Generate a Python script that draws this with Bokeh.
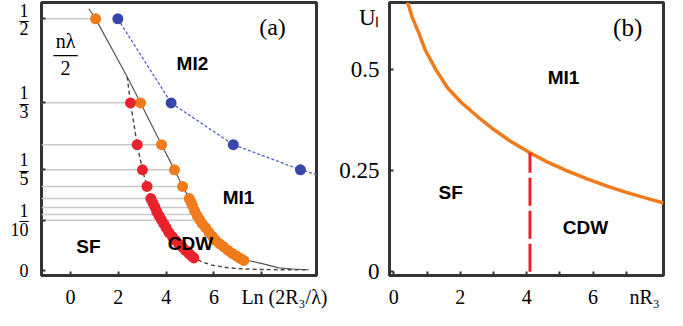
from bokeh.plotting import figure
from bokeh.layouts import row
from bokeh.models import Range1d, FixedTicker, Label, CustomJSTickFormatter
from bokeh.embed import file_html
from bokeh.resources import INLINE

SERIF = "Times"
SANS = "Liberation Sans"
ORANGE = "#f07b1c"
RED = "#e9232b"
BLUE = "#3546a8"
BLUE_LINE = "#4b63c8"
FRAME = "#333333"

# ---------------- panel (a) data ----------------
frac_vals = [0, 1 / 10, 1 / 5, 1 / 3, 1 / 2]
frac_labels = ["0", "1\n\u2013\n10", "1\n\u2013\n5", "1\n\u2013\n3", "1\n\u2013\n2"]
xticks_a = [0, 2, 4, 6, 8]
xlabel_pos_a = [0, 2, 4, 6, 8.95]
xlabel_txt_a = ["0", "2", "4", "6", "Ln (2R\u2083/\u03bb)"]

guide_y = [0.5, 0.3333, 0.25, 0.2, 0.1667, 0.1429, 0.125, 0.1111, 0.1]
guide_x_end = [1.05, 2.93, 3.81, 4.35, 4.69, 4.97, 5.15, 5.28, 5.41]

mi1_x = [1.05, 2.93, 3.81, 4.35, 4.69, 4.97, 5.04, 5.10, 5.19, 5.30, 5.40, 5.51, 5.65,
         5.79, 5.93, 6.07, 6.24, 6.41, 6.59, 6.77, 6.94, 7.11, 7.25]
mi1_y = [0.5, 0.333, 0.25, 0.2, 0.167, 0.143, 0.136, 0.129, 0.119, 0.109, 0.101, 0.093, 0.085,
         0.076, 0.068, 0.060, 0.053, 0.047, 0.040, 0.034, 0.029, 0.024, 0.020]

cdw_x = [2.51, 2.79, 3.01, 3.20, 3.36, 3.45, 3.53, 3.61, 3.70, 3.80, 3.90, 4.00, 4.11,
         4.25, 4.39, 4.53, 4.67, 4.81, 4.95, 5.06, 5.16]
cdw_y = [0.333, 0.25, 0.2, 0.167, 0.143, 0.134, 0.126, 0.117, 0.109, 0.101, 0.093, 0.085, 0.076,
         0.068, 0.060, 0.053, 0.047, 0.040, 0.034, 0.029, 0.025]

mi2_x = [1.98, 4.21, 6.81, 9.62]
mi2_y = [0.5, 0.333, 0.25, 0.2]
mi2_line_x = [1.98, 4.21, 6.81, 9.62, 10.35]
mi2_line_y = [0.5, 0.333, 0.25, 0.2, 0.19]

sol_x = [0.77, 1.05, 2.37, 2.93, 3.81, 4.35, 4.69, 4.97, 5.30, 5.51, 5.79, 6.07, 6.41,
         6.77, 7.11, 7.6, 8.02, 8.72, 9.3, 9.97]
sol_y = [0.52, 0.5, 0.385, 0.333, 0.25, 0.2, 0.167, 0.143, 0.109, 0.093, 0.076, 0.060, 0.047,
         0.034, 0.024, 0.018, 0.0138, 0.0053, 0.003, 0.0015]

dash_x = [2.37, 2.51, 2.79, 3.01, 3.20, 3.36, 3.53, 3.70, 3.90, 4.11, 4.39, 4.67, 4.95,
          5.16, 5.5, 5.93, 6.62, 7.3, 8.02, 9.0, 9.97]
dash_y = [0.385, 0.333, 0.25, 0.2, 0.167, 0.143, 0.126, 0.109, 0.093, 0.076, 0.060, 0.047, 0.034,
          0.025, 0.017, 0.0105, 0.0053, 0.003, 0.002, 0.0015, 0.0012]

# ---------------- panel (b) data ----------------
ul_x = [0.40, 0.55, 0.75, 0.95, 1.26, 1.61, 2.01, 2.51, 3.0, 3.5, 4.1, 4.6, 5.2, 5.8,
        6.4, 7.0, 7.6, 8.12]
ul_y = [0.670, 0.629, 0.590, 0.547, 0.500, 0.455, 0.420, 0.384, 0.352, 0.323, 0.294, 0.272,
        0.250, 0.230, 0.212, 0.196, 0.182, 0.170]
sf_cdw_x = [4.1]
sf_cdw_top = [0.294]
xticks_b = [0, 1, 2, 3, 4, 5, 6, 7]
xlabel_pos_b = [0, 2, 4, 6, 7.55]
xlabel_txt_b = ["0", "2", "4", "6", "nR\u2083"]
yticks_b = [0, 0.25, 0.5]
ylabel_pos_b = [0, 0.25, 0.5, 0.628]
ylabel_txt_b = ["0", "0.25", "0.5", "U\u2097"]


def fmt(pos, txt):
    mapping = {str(p): t for p, t in zip(pos, txt)}
    code = "const m = %r; for (const k in m) { if (Math.abs(Number(k) - tick) < 1e-6) return m[k]; } return '';" % mapping
    return CustomJSTickFormatter(code=code)


def style(p):
    p.xgrid.visible = False
    p.ygrid.visible = False
    p.outline_line_color = FRAME
    p.outline_line_width = 3
    p.background_fill_color = "white"
    p.border_fill_color = "white"
    for ax in (p.xaxis, p.yaxis):
        ax.axis_line_color = None
        ax.major_tick_in = 0
        ax.major_tick_out = 0
        ax.major_tick_line_color = None
        ax.minor_tick_in = 4
        ax.minor_tick_out = 0
        ax.minor_tick_line_color = FRAME
        ax.minor_tick_line_width = 2
        ax.major_label_text_font = SERIF
        ax.major_label_text_color = "black"


def lab(p, x, y, text, size, font=SERIF, bold=False, align="center", baseline="middle"):
    p.add_layout(Label(x=x, y=y, text=text, text_font=font, text_font_size=size,
                       text_font_style="bold" if bold else "normal", text_align=align,
                       text_baseline=baseline, text_color="black"))


# ---------------- figure (a) ----------------
pa = figure(width=334, height=310, x_range=Range1d(-1.213, 10.29), y_range=Range1d(-0.0099, 0.5325),
            output_backend="svg", toolbar_location=None,
            min_border_left=41, min_border_right=18, min_border_top=2, min_border_bottom=33)
style(pa)
pa.xaxis.ticker = FixedTicker(ticks=xlabel_pos_a, minor_ticks=xticks_a)
pa.xaxis.formatter = fmt(xlabel_pos_a, xlabel_txt_a)
pa.xaxis.major_label_text_font_size = "20px"
pa.xaxis.major_label_standoff = 10
pa.yaxis.ticker = FixedTicker(ticks=frac_vals, minor_ticks=frac_vals)
pa.yaxis.formatter = fmt(frac_vals, frac_labels)
pa.yaxis.major_label_text_font_size = "18px"
pa.yaxis.major_label_text_line_height = 0.47
pa.yaxis.major_label_standoff = 13

x_left = pa.x_range.start
pa.segment(x0=[x_left] * len(guide_y), y0=guide_y, x1=guide_x_end, y1=guide_y,
           line_color="#c9c9c9", line_width=1.5)
pa.line(sol_x, sol_y, line_color="#555555", line_width=1.2)
pa.line(dash_x, dash_y, line_color="#444444", line_width=1.4, line_dash="4 3")
pa.line(mi2_line_x, mi2_line_y, line_color=BLUE_LINE, line_width=1.3, line_dash="3 2")
pa.scatter(mi1_x, mi1_y, size=11, fill_color=ORANGE, line_color=None)
pa.scatter(cdw_x, cdw_y, size=11, fill_color=RED, line_color=None)
pa.scatter(mi2_x, mi2_y, size=11, fill_color=BLUE, line_color=None)

# axis title "n lambda / 2"
lab(pa, -0.21, 0.456, "n\u03bb", "20px")
lab(pa, -0.21, 0.432, "\u2014", "24px")
lab(pa, -0.21, 0.403, "2", "20px")

lab(pa, 8.45, 0.483, "(a)", "24px")
lab(pa, 5.10, 0.412, "MI2", "19px", font=SANS, bold=True)
lab(pa, 7.03, 0.146, "MI1", "19px", font=SANS, bold=True)
lab(pa, 5.02, 0.053, "CDW", "19px", font=SANS, bold=True)
lab(pa, 0.75, 0.047, "SF", "19px", font=SANS, bold=True)

# ---------------- figure (b) ----------------
pb = figure(width=333, height=310, x_range=Range1d(-0.13, 8.12), y_range=Range1d(-0.0091, 0.665),
            output_backend="svg", toolbar_location=None,
            min_border_left=55, min_border_right=4, min_border_top=2, min_border_bottom=33)
style(pb)
pb.xaxis.ticker = FixedTicker(ticks=xlabel_pos_b, minor_ticks=xticks_b)
pb.xaxis.formatter = fmt(xlabel_pos_b, xlabel_txt_b)
pb.xaxis.major_label_text_font_size = "20px"
pb.xaxis.major_label_standoff = 10
pb.yaxis.ticker = FixedTicker(ticks=ylabel_pos_b, minor_ticks=yticks_b)
pb.yaxis.formatter = fmt(ylabel_pos_b, ylabel_txt_b)
pb.yaxis.major_label_text_font_size = "23px"
pb.yaxis.major_label_standoff = 10

pb.line(ul_x, ul_y, line_color=ORANGE, line_width=3.5)
pb.segment(x0=sf_cdw_x, y0=[0] * len(sf_cdw_x), x1=sf_cdw_x, y1=sf_cdw_top,
           line_color=RED, line_width=3, line_dash="28 5")

lab(pb, 7.04, 0.604, "(b)", "25px")
lab(pb, 5.11, 0.479, "MI1", "19px", font=SANS, bold=True)
lab(pb, 1.71, 0.197, "SF", "19px", font=SANS, bold=True)
lab(pb, 5.77, 0.109, "CDW", "19px", font=SANS, bold=True)

layout = row(pa, pb)
open("out.html", "w").write(file_html(layout, INLINE))
